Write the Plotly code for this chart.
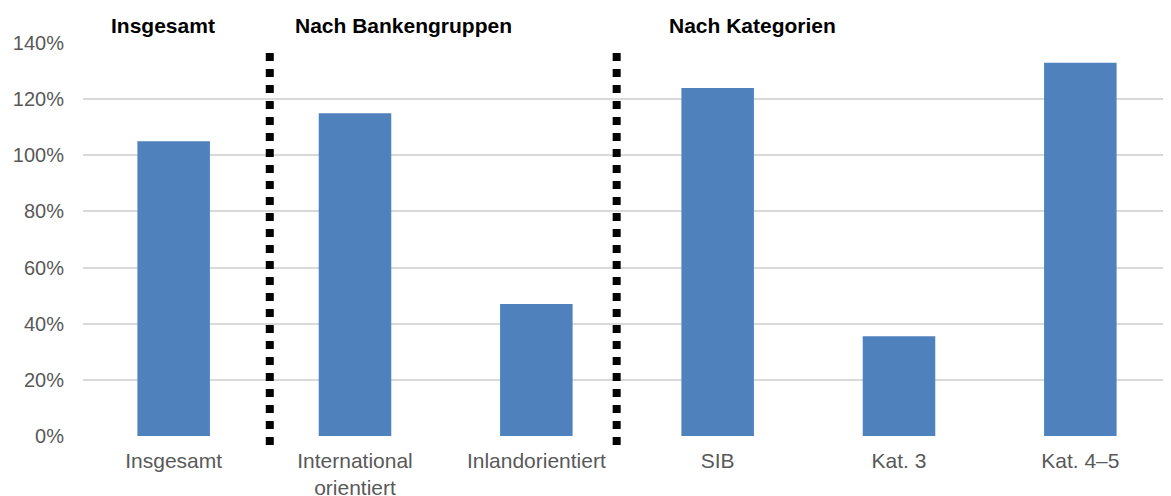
import plotly.graph_objects as go

categories = ["Insgesamt", "International<br>orientiert", "Inlandorientiert", "SIB", "Kat. 3", "Kat. 4–5"]
values = [105, 115, 47, 124, 35.5, 133]
y_ticks = [0, 20, 40, 60, 80, 100, 120, 140]
y_tick_labels = [f"{v}%" for v in y_ticks]
group_headers = ["Insgesamt", "Nach Bankengruppen", "Nach Kategorien"]
header_x = [-0.059, 1.265, 3.191]
separator_x = [0.53, 2.443]

FONT = "Arial, 'Liberation Sans', Helvetica, sans-serif"

fig = go.Figure()
fig.add_trace(go.Bar(
    x=categories, y=values,
    marker=dict(color="#4F81BD", line=dict(width=0)),
    hoverinfo="skip",
))

for sx in separator_x:
    fig.add_shape(type="line", xref="x", yref="paper",
                  x0=sx, x1=sx, y0=0.9746, y1=-0.0229,
                  line=dict(color="black", width=8, dash="dot"), layer="above")

for hx, txt in zip(header_x, group_headers):
    fig.add_annotation(x=hx, xref="x", y=1.0458, yref="paper", text=f"<b>{txt}</b>",
                       showarrow=False, xanchor="center", yanchor="middle",
                       font=dict(family=FONT, size=21, color="black"))

# The page body adds an 8px offset; margins compensate so the plot area lands
# where the reference has it.
fig.update_layout(
    width=1171, height=496,
    margin=dict(l=75, r=8, t=35, b=68, autoexpand=False),
    plot_bgcolor="white", paper_bgcolor="white",
    bargap=0.6, showlegend=False,
    font=dict(family=FONT, size=20, color="#595959"),
)
fig.update_xaxes(type="category", showgrid=False, zeroline=False, showline=False,
                 ticks="", ticklabelstandoff=10, automargin=False,
                 tickfont=dict(family=FONT, size=21, color="#595959"))
fig.update_yaxes(range=[0, 140], tickvals=y_ticks, ticktext=y_tick_labels,
                 showgrid=True, gridcolor="#D9D9D9", gridwidth=2,
                 zeroline=False, showline=False, ticks="", ticklabelstandoff=18,
                 automargin=False,
                 tickfont=dict(family=FONT, size=20, color="#595959"))

fig.write_html("out.html")
